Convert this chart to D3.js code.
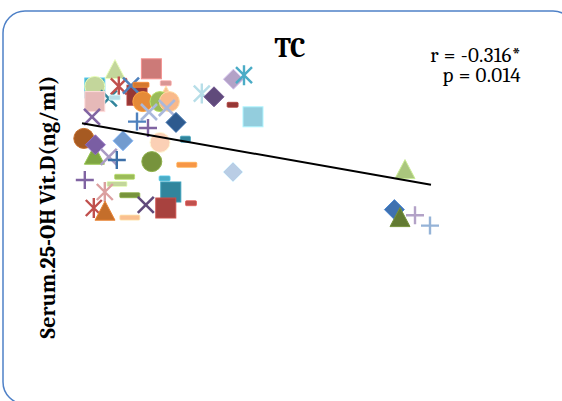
<!DOCTYPE html>
<html>
<head>
<meta charset="utf-8">
<script src="https://cdnjs.cloudflare.com/ajax/libs/d3/7.8.5/d3.min.js"></script>
<style>
  html, body { margin: 0; padding: 0; background: #fff; }
  svg { display: block; }
</style>
</head>
<body>
<svg id="chart" width="562" height="401"></svg>
<script>
// Total cholesterol (mg/dl) and serum 25-OH vitamin D (ng/ml), one entry per subject
const tc = [
  117.4, 117.4, 124.4, 117.4, 127.5, 129.4, 127.4, 138.5, 135.5, 140.5,
  145.7, 152.9, 153.0, 141.4, 150.0, 154.7, 144.5, 153.4, 170.9, 186.7,
  192.0, 177.0, 186.3, 196.5, 116.0, 138.5, 144.0, 158.0, 111.9, 117.2,
  117.7, 131.5, 124.4, 128.4, 150.0, 162.7, 145.9, 163.4, 112.4, 132.3,
  128.5, 134.9, 122.4, 116.9, 122.5, 134.9, 152.3, 155.4, 142.9, 152.9,
  165.5, 186.5, 272.5, 267.2, 270.0, 277.5, 285.0
];
const vitD = [
  34.0, 34.2, 32.7, 32.3, 36.3, 34.2, 32.8, 33.1, 34.3, 34.4,
  36.4, 34.6, 33.0, 32.3, 32.3, 32.3, 31.0, 31.5, 33.3, 35.1,
  35.6, 32.9, 31.9, 30.4, 30.4, 29.8, 29.0, 29.7, 27.7, 25.6,
  26.9, 27.4, 25.4, 25.0, 27.2, 27.6, 24.8, 24.4, 22.5, 22.9,
  22.0, 20.6, 21.0, 19.0, 18.6, 17.8, 22.7, 21.0, 19.4, 19.0,
  19.6, 23.5, 23.8, 18.8, 17.8, 18.1, 16.8
];

// Fitted regression line, evaluated at its two ends
const trendTC = [111, 285.5];
const trendVitD = [29.6, 21.9];

const chartTitle = "TC";
const yTitle = "Serum.25-OH Vit.D(ng/ml)";
const statLines = ["r = -0.316*", "p = 0.014"];

// Marker symbol and colour for each subject's series
const markerStyle = [
  ["square", "#4bacc6"], ["circle", "#c3d69b"], ["x", "#31859c"], ["square", "#e6b9b8"],
  ["triangle", "#c3d69b"], ["asterisk", "#c0504d"], ["dashS", "#b7dee8"], ["square", "#953735"],
  ["x", "#4f81bd"], ["dashM", "#d4782f"], ["square", "#cc7a78"], ["dashS", "#d99694"],
  ["triangle", "#fac090"], ["circle", "#e58a37"], ["circle", "#9bbb59"], ["circle", "#f9b98a"],
  ["x", "#aab8db"], ["x", "#aab8db"], ["asterisk", "#b7dee8"], ["diamond", "#b3a2c7"],
  ["asterisk", "#4bacc6"], ["diamond", "#604a7b"], ["dashS", "#953735"], ["square", "#93cddd"],
  ["x", "#8064a2"], ["plus", "#4f81bd"], ["plus", "#8064a2"], ["diamond", "#2e5a8e"],
  ["circle", "#a65a22"], ["triangle", "#7ea542"], ["diamond", "#7a5ea3"], ["diamond", "#729bcf"],
  ["x", "#a99bc4"], ["plus", "#3d6fa8"], ["circle", "#fbd0b5"], ["dashT", "#31859c"],
  ["circle", "#77933c"], ["dash", "#f79646"], ["plus", "#8064a2"], ["dash", "#9bbb59"],
  ["dash", "#c3d69b"], ["dash", "#77933c"], ["asterisk", "#dba0a0"], ["asterisk", "#c0504d"],
  ["triangle", "#c46e2b"], ["dash", "#fac090"], ["dashS", "#4bacc6"], ["square", "#31859c"],
  ["x", "#604a7b"], ["square", "#a8423f"], ["dashS", "#c0504d"], ["diamond", "#b9cde5"],
  ["triangle", "#aac67d"], ["diamond", "#3f71b0"], ["triangle", "#627a32"], ["plus", "#b3a2c7"],
  ["plus", "#95b3d7"]
];

const svg = d3.select("#chart");
const serif = "Cambria, 'Liberation Serif', 'DejaVu Serif', serif";

// Chart frame with rounded corners
svg.append("rect")
  .attr("x", 3).attr("y", 11)
  .attr("width", 572).attr("height", 393)
  .attr("rx", 22).attr("ry", 22)
  .attr("fill", "#fff")
  .attr("stroke", "#4f81c7")
  .attr("stroke-width", 1.5);

const x = d3.scaleLinear().domain([100, 350]).range([60, 560]);
const y = d3.scaleLinear().domain([0, 40]).range([360, 40]);

const points = tc.map((v, i) => ({ tc: v, d: vitD[i], shape: markerStyle[i][0], color: markerStyle[i][1] }));

const plot = svg.append("g");

function drawMarker(g, p) {
  const c = p.color;
  const edge = d3.color(c).brighter(0.5).formatHex();
  switch (p.shape) {
    case "square":
      g.append("rect").attr("x", -10).attr("y", -10).attr("width", 20).attr("height", 20)
        .attr("fill", c).attr("stroke", edge).attr("stroke-width", 1);
      break;
    case "circle":
      g.append("circle").attr("r", 10).attr("fill", c).attr("stroke", edge).attr("stroke-width", 1);
      break;
    case "triangle":
      g.append("path").attr("d", "M0,-10L10,9L-10,9Z").attr("fill", c)
        .attr("stroke", edge).attr("stroke-width", 1).attr("stroke-linejoin", "round");
      break;
    case "diamond":
      g.append("path").attr("d", "M0,-10L10,0L0,10L-10,0Z").attr("fill", c)
        .attr("stroke", edge).attr("stroke-width", 1).attr("stroke-linejoin", "round");
      break;
    case "x":
      g.append("path").attr("d", "M-8,-8L8,8M-8,8L8,-8").attr("fill", "none")
        .attr("stroke", c).attr("stroke-width", 2.6);
      break;
    case "asterisk":
      g.append("path").attr("d", "M-8,-8L8,8M-8,8L8,-8M0,-10L0,10").attr("fill", "none")
        .attr("stroke", c).attr("stroke-width", 2.4);
      break;
    case "plus":
      g.append("path").attr("d", "M-9,0L9,0M0,-9L0,9").attr("fill", "none")
        .attr("stroke", c).attr("stroke-width", 2.4);
      break;
    default: {
      const w = { dash: 20, dashM: 16, dashS: 11, dashT: 10 }[p.shape];
      const h = p.shape === "dashT" ? 6 : 5;
      g.append("rect").attr("x", -w / 2).attr("y", -h / 2).attr("width", w).attr("height", h)
        .attr("rx", 1).attr("fill", c).attr("stroke", edge).attr("stroke-width", 0.8);
    }
  }
}

plot.selectAll("g.pt").data(points).join("g")
  .attr("class", "pt")
  .attr("transform", d => `translate(${x(d.tc)},${y(d.d)})`)
  .each(function (d) { drawMarker(d3.select(this), d); });

// Regression line
const line = d3.line().x(d => x(d[0])).y(d => y(d[1]));
plot.append("path")
  .datum(trendTC.map((v, i) => [v, trendVitD[i]]))
  .attr("d", line)
  .attr("fill", "none")
  .attr("stroke", "#000")
  .attr("stroke-width", 2);

// Title
svg.append("text")
  .attr("x", 290).attr("y", 57)
  .attr("text-anchor", "middle")
  .attr("font-family", serif)
  .attr("font-weight", "bold")
  .attr("font-size", 28)
  .attr("fill", "#000")
  .text(chartTitle);

// Correlation statistics
svg.selectAll("text.stat").data(statLines).join("text")
  .attr("class", "stat")
  .attr("x", 521)
  .attr("y", (d, i) => 62 + i * 20)
  .attr("text-anchor", "end")
  .attr("font-family", serif)
  .attr("font-size", 21)
  .attr("letter-spacing", 0.3)
  .attr("fill", "#000")
  .text(d => d);

// Vertical axis title
svg.append("text")
  .attr("transform", "translate(55,207) rotate(-90)")
  .attr("text-anchor", "middle")
  .attr("font-family", serif)
  .attr("font-weight", "bold")
  .attr("font-size", 22)
  .attr("fill", "#000")
  .text(yTitle);
</script>
</body>
</html>
